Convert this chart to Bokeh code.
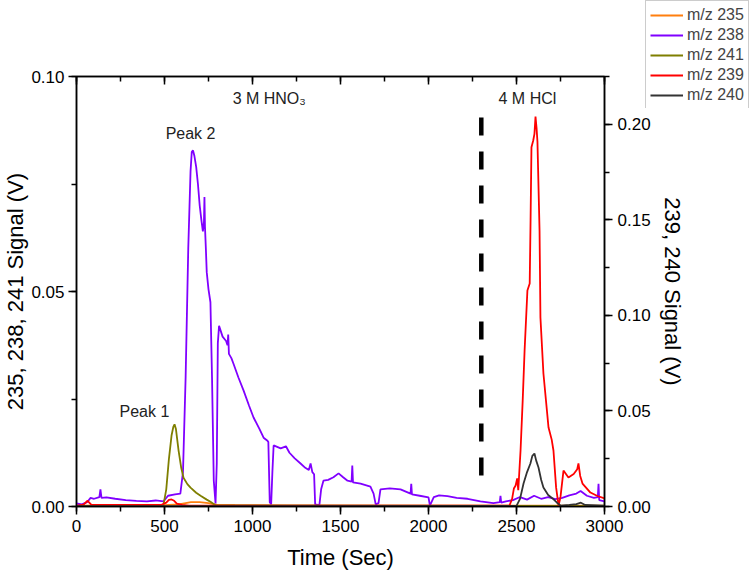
from bokeh.plotting import figure
from bokeh.layouts import column
from bokeh.models import (Range1d, LinearAxis, SingleIntervalTicker, Legend, LegendItem,
                          PrintfTickFormatter, CustomJSTickFormatter)
from bokeh.core.properties import value
from bokeh.embed import file_html
from bokeh.resources import INLINE

FONT = "Liberation Sans"

# ---------------- data ----------------
# m/z 238 (left axis)
t238 = [0, 30, 60, 80, 100, 130, 136, 142, 170, 220, 280, 340, 400, 450, 494, 520, 560, 590,
        605, 620, 635, 648, 655, 662, 670, 680, 690, 700, 710, 718, 724, 727, 730, 735, 740,
        750, 761, 770, 780, 790, 797, 803, 810, 830, 850, 858, 862, 866, 880, 892, 920, 949,
        980, 1006, 1040, 1063, 1085, 1090, 1098, 1106, 1113, 1120, 1160, 1190, 1210, 1240,
        1273, 1300, 1320, 1330, 1340, 1350, 1356, 1380, 1390, 1403, 1430, 1460, 1489, 1515,
        1540, 1563, 1567, 1571, 1614, 1670, 1688, 1700, 1716, 1727, 1780, 1841, 1898, 1902,
        1906, 1950, 2000, 2008, 2030, 2060, 2108, 2160, 2222, 2295, 2369, 2405, 2409, 2413,
        2440, 2480, 2520, 2560, 2600, 2640, 2680, 2720, 2760, 2800, 2840, 2864, 2900, 2940,
        2962, 2966, 2970, 3000]
s238 = [0.0007, 0.0005, 0.0010, 0.0020, 0.0018, 0.0022, 0.0040, 0.0020, 0.0021, 0.0018,
        0.0015, 0.0013, 0.0012, 0.0014, 0.0012, 0.0025, 0.0028, 0.0030, 0.0080, 0.0300,
        0.0600, 0.0780, 0.0825, 0.0828, 0.0815, 0.0790, 0.0750, 0.0700, 0.0665, 0.0640,
        0.0660, 0.0720, 0.0650, 0.0600, 0.0545, 0.0505, 0.0475, 0.0300, 0.0060, 0.0007,
        0.0100, 0.0380, 0.0420, 0.0395, 0.0385, 0.0375, 0.0400, 0.0355, 0.0345, 0.0332,
        0.0300, 0.0270, 0.0235, 0.0207, 0.0180, 0.0160, 0.0153, 0.0150, 0.0010, 0.0005,
        0.0080, 0.0142, 0.0135, 0.0140, 0.0125, 0.0112, 0.0100, 0.0090, 0.0085, 0.0100,
        0.0080, 0.0075, 0.0005, 0.0003, 0.0040, 0.0060, 0.0062, 0.0068, 0.0077, 0.0068,
        0.0060, 0.0058, 0.0095, 0.0056, 0.0053, 0.0046, 0.0030, 0.0005, 0.0008, 0.0040,
        0.0042, 0.0040, 0.0030, 0.0053, 0.0028, 0.0025, 0.0021, 0.0002, 0.0022, 0.0026,
        0.0024, 0.0020, 0.0018, 0.0012, 0.0008, 0.0010, 0.0025, 0.0009, 0.0012, 0.0015,
        0.0022, 0.0016, 0.0025, 0.0018, 0.0022, 0.0017, 0.0020, 0.0026, 0.0030, 0.0036,
        0.0025, 0.0020, 0.0022, 0.0053, 0.0015, 0.0012]

# m/z 241 (left axis)
t241 = [0, 480, 494, 510, 525, 540, 550, 557, 565, 580, 595, 608, 630, 648, 680, 705, 740,
        761, 790, 3000]
s241 = [0.0, 0.0, 0.0003, 0.0040, 0.0110, 0.0165, 0.0185, 0.0191, 0.0180, 0.0130, 0.0090,
        0.0067, 0.0052, 0.0044, 0.0032, 0.0025, 0.0016, 0.0011, 0.0003, 0.0001]

# m/z 235 (left axis)
t235 = [0, 500, 580, 620, 650, 700, 750, 800, 900, 1200, 3000]
s235 = [0.0002, 0.0003, 0.0005, 0.0008, 0.0010, 0.0010, 0.0008, 0.0004, 0.0003, 0.0002,
        0.0002]

# m/z 239 (right axis)
t239 = [0, 40, 63, 85, 480, 510, 525, 540, 555, 570, 600, 640, 800, 2460, 2475, 2485, 2495,
        2504, 2510, 2523, 2535, 2546, 2562, 2575, 2580, 2585, 2595, 2602, 2608, 2614, 2619,
        2631, 2636, 2653, 2682, 2700, 2710, 2725, 2739, 2750, 2767, 2795, 2825, 2845, 2852,
        2862, 2875, 2920, 2960, 3000]
s239 = [0.0005, 0.0010, 0.0030, 0.0008, 0.0008, 0.0020, 0.0035, 0.0037, 0.0030, 0.0015,
        0.0008, 0.0005, 0.0005, 0.0005, 0.0040, 0.0094, 0.0110, 0.0147, 0.0085, 0.0293,
        0.0550, 0.0816, 0.1130, 0.1167, 0.1500, 0.1880, 0.1915, 0.1950, 0.2040, 0.1980,
        0.1910, 0.1440, 0.0989, 0.0696, 0.0413, 0.0350, 0.0293, 0.0100, 0.0005, 0.0050,
        0.0188, 0.0152, 0.0170, 0.0195, 0.0225, 0.0160, 0.0120, 0.0073, 0.0055, 0.0042]

# m/z 240 (right axis)
t240 = [0, 2500, 2520, 2540, 2560, 2579, 2590, 2602, 2612, 2625, 2640, 2653, 2680, 2705, 2730,
        2750, 2800, 2840, 2866, 2890, 3000]
s240 = [0.0002, 0.0003, 0.0040, 0.0120, 0.0180, 0.0225, 0.0265, 0.0277, 0.0240, 0.0204,
        0.0140, 0.0099, 0.0060, 0.0042, 0.0020, 0.0005, 0.0008, 0.0012, 0.0020, 0.0008,
        0.0005]

series_names = ["m/z 235", "m/z 238", "m/z 241", "m/z 239", "m/z 240"]
series_colors = ["#FF7F0E", "#8000FF", "#7F7F00", "#FF0000", "#333333"]

divider_x = [2300, 2300]
divider_y = [0.0072, 0.0907]

ann_text = ["3 M HNO\u2083", "4 M HCl", "Peak 2", "Peak 1"]
ann_x = [1095, 2562, 648, 386]
ann_y = [0.0949, 0.0949, 0.0867, 0.0221]

# ---------------- main figure ----------------
p = figure(width=751, height=576, x_range=Range1d(0, 3000), y_range=Range1d(0, 0.1),
           output_backend="svg", toolbar_location=None,
           min_border_left=76, min_border_right=147, min_border_top=76, min_border_bottom=70)
p.extra_y_ranges = {"right": Range1d(0, 0.225)}
p.xgrid.visible = False
p.ygrid.visible = False
p.outline_line_color = "black"
p.outline_line_width = 1.5
p.background_fill_color = "white"
p.border_fill_color = "white"

def style_axis(ax):
    ax.axis_line_width = 1.5
    ax.axis_line_color = "black"
    ax.major_tick_line_width = 1.5
    ax.minor_tick_line_width = 1.5
    ax.major_tick_in = 0
    ax.major_tick_out = 8
    ax.minor_tick_in = 0
    ax.minor_tick_out = 5
    ax.major_label_text_font = FONT
    ax.major_label_text_font_size = "17px"
    ax.major_label_text_color = "black"
    ax.axis_label_text_font = FONT
    ax.axis_label_text_font_size = "22px"
    ax.axis_label_text_font_style = "normal"
    ax.axis_label_text_color = "black"
    ax.major_label_standoff = 5

xax = p.xaxis[0]
xax.ticker = SingleIntervalTicker(interval=500, num_minor_ticks=2)
xax.axis_label = "Time (Sec)"
style_axis(xax)
xax.axis_label_standoff = 10

yax = p.yaxis[0]
yax.ticker = SingleIntervalTicker(interval=0.05, num_minor_ticks=2)
yax.formatter = PrintfTickFormatter(format="%.2f")
yax.axis_label = "235, 238, 241 Signal (V)"
style_axis(yax)
yax.major_label_standoff = 4
yax.axis_label_standoff = 0

rax = LinearAxis(y_range_name="right", ticker=SingleIntervalTicker(interval=0.05, num_minor_ticks=2),
                 formatter=PrintfTickFormatter(format="%.2f"), axis_label="239, 240 Signal (V)")
style_axis(rax)
rax.axis_label_standoff = 6
rax.axis_label_orientation = "vertical"
p.add_layout(rax, "right")

tax = LinearAxis(ticker=SingleIntervalTicker(interval=500, num_minor_ticks=2),
                 formatter=CustomJSTickFormatter(code="return ''"))
style_axis(tax)
tax.major_tick_in = 8
tax.major_tick_out = 0
tax.minor_tick_in = 5
tax.minor_tick_out = 0
p.add_layout(tax, "above")

r235 = p.line(t235, s235, color=series_colors[0], line_width=1.8)
r238 = p.line(t238, s238, color=series_colors[1], line_width=1.8)
r241 = p.line(t241, s241, color=series_colors[2], line_width=1.8)
r239 = p.line(t239, s239, color=series_colors[3], line_width=1.8, y_range_name="right")
r240 = p.line(t240, s240, color=series_colors[4], line_width=1.8, y_range_name="right")

p.line(divider_x, divider_y, color="black", line_width=4.5, line_dash="18 16")

p.text(x=ann_x, y=ann_y, text=ann_text, text_font=value(FONT), text_font_size="16px",
       text_align="center", text_baseline="middle", text_color="#222222")

# ---------------- legend figure (overlaid at top right) ----------------
lf = figure(width=106, height=108, x_range=Range1d(0, 1), y_range=Range1d(0, 1),
            output_backend="svg", toolbar_location=None, min_border=0)
lf.axis.visible = False
lf.grid.visible = False
lf.outline_line_color = None
lf.background_fill_color = "white"
lf.border_fill_color = "white"
nan = float("nan")
leg_renderers = [lf.line(x=[nan, nan], y=[nan, nan], color=c, line_width=2)
                 for c in series_colors]
legend = Legend(items=[LegendItem(label=n, renderers=[r]) for n, r in
                       zip(series_names, leg_renderers)],
                location="top_left")
legend.label_text_font = FONT
legend.label_text_font_size = "16px"
legend.glyph_width = 33
legend.glyph_height = 20
legend.label_height = 20
legend.label_standoff = 4
legend.spacing = 0
legend.padding = 4
legend.margin = 0
legend.border_line_color = "#999999"
legend.border_line_width = 1
legend.background_fill_color = "white"
legend.background_fill_alpha = 1.0
lf.add_layout(legend)
lf.styles = {"position": "absolute", "left": "645px", "top": "0px"}

layout = column(p, lf)
open("out.html", "w").write(file_html(layout, INLINE))
